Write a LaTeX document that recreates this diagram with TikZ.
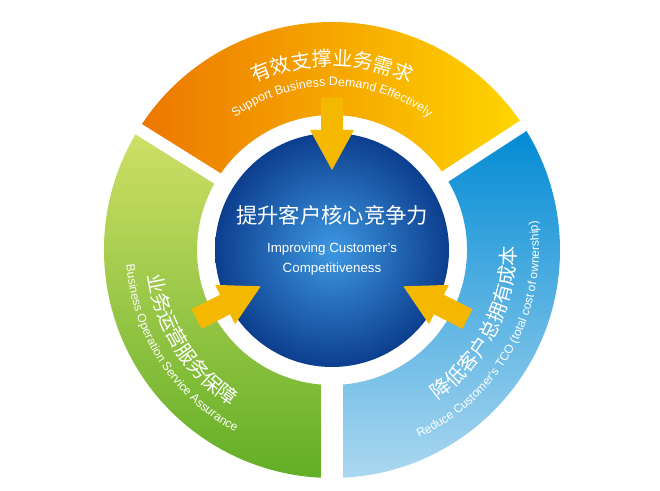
\documentclass[tikz,border=0pt]{standalone}
\usepackage{fontspec}
\setsansfont{Liberation Sans}
\newfontfamily\cjk{Noto Sans CJK SC}
\usetikzlibrary{decorations.text, positioning, calc}
\definecolor{ringorange}{RGB}{236,118,0}
\definecolor{ringyellow}{RGB}{255,214,0}
\definecolor{ringgreenl}{RGB}{208,224,104}
\definecolor{ringgreend}{RGB}{98,174,38}
\definecolor{ringblued}{RGB}{0,138,212}
\definecolor{ringbluel}{RGB}{172,216,240}
\definecolor{corel}{RGB}{62,152,226}
\definecolor{cored}{RGB}{12,62,142}
\definecolor{arrowgold}{RGB}{245,184,0}
\tikzset{
  arctext/.style={decorate, decoration={text along path, text align=center, text color=white, text={#1}}},
  coretext/.style={text=white, align=center, inner sep=1pt}
}
\begin{document}
\begin{tikzpicture}[x=0.75pt,y=0.75pt]
        \useasboundingbox (0,0) rectangle (660,490);
        \begin{scope}[shift={(332,240)}]
        % ring parts
        \shade[left color=ringorange, right color=ringyellow] (33:228) arc[start angle=33,end angle=148,radius=228] -- (148:135) arc[start angle=148,end angle=33,radius=135] -- cycle;
        \shade[top color=ringgreenl, bottom color=ringgreend] (148:228) arc[start angle=148,end angle=270,radius=228] -- (270:135) arc[start angle=270,end angle=148,radius=135] -- cycle;
        \shade[top color=ringblued, bottom color=ringbluel] (-90:228) arc[start angle=-90,end angle=33,radius=228] -- (33:135) arc[start angle=33,end angle=-90,radius=135] -- cycle;
        \draw[white, line width=9pt] (0,0) -- (33:240) (0,0) -- (148:240);
        \draw[white, line width=16pt] (0,0) -- (270:240);
        % core
        \shade[inner color=corel, outer color=cored] (0,0) circle[radius=117];
        \node[coretext, font=\cjk\fontsize{16}{16}\selectfont] (core_cn) at (0,35) {提升客户核心竞争力};
        \node[coretext, font=\sffamily\fontsize{10}{15}\selectfont, below=11pt of core_cn] (core_en) {Improving Customer's\\Competitiveness};
        % arrows
        \foreach \ang in {90,207,333}
          \fill[arrowgold, rotate=\ang] (80,0) -- (120,22) -- (120,11) -- (152,11) -- (152,-11) -- (120,-11) -- (120,-22) -- cycle;
        % ring labels
        \path[arctext={|\cjk\fontsize{15}{15}\selectfont|有效支撑业务需求}] (160:184) arc[start angle=160,end angle=20,radius=184];
        \path[arctext={|\sffamily\fontsize{9.3}{10}\selectfont|Support Business Demand Effectively}] (170:164) arc[start angle=170,end angle=10,radius=164];
        \path[arctext={|\cjk\fontsize{15}{15}\selectfont|业务运营服务保障}] (180:186) arc[start angle=180,end angle=245,radius=186];
        \path[arctext={|\sffamily\fontsize{9}{10}\selectfont|Business Operation Service Assurance}] (168:206) arc[start angle=168,end angle=258,radius=206];
        \path[arctext={|\cjk\fontsize{15}{15}\selectfont|降低客户总拥有成本}] (-62:184) arc[start angle=-62,end angle=8,radius=184];
        \path[arctext={|\sffamily\fontsize{9}{10}\selectfont|Reduce Customer's TCO (total cost of ownership)}] (-76:207) arc[start angle=-76,end angle=19,radius=207];
        \end{scope}
      \end{tikzpicture}
\end{document}
